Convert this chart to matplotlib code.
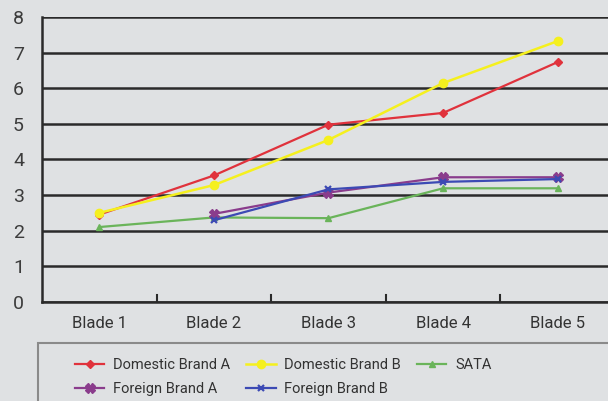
import matplotlib.pyplot as plt
import numpy as np
from matplotlib.patches import Rectangle

# Data: scores per blade
blades = ['Blade 1', 'Blade 2', 'Blade 3', 'Blade 4', 'Blade 5']
domestic_a = [2.45, 3.55, 4.98, 5.31, 6.74]
domestic_b = [2.5, 3.28, 4.55, 6.15, 7.33]
sata = [2.1, 2.37, 2.35, 3.19, 3.19]
foreign_a = [np.nan, 2.47, 3.07, 3.5, 3.5]
foreign_b = [np.nan, 2.29, 3.16, 3.37, 3.45]

bg = '#dfe1e3'
plt.rcParams['font.family'] = ['Roboto', 'DejaVu Sans']

fig = plt.figure(figsize=(6.08, 4.01), dpi=100, facecolor=bg)
ax = fig.add_axes([42 / 608, 0.2476, 1 - 42 / 608, 0.9569 - 0.2476])
ax.set_facecolor(bg)

x = np.arange(len(blades))
ax.plot(x, domestic_a, color='#e0323c', marker='D', markersize=4, lw=1.6, label='Domestic Brand A')
ax.plot(x, domestic_b, color='#f5f01e', marker='o', markersize=6, lw=1.8, label='Domestic Brand B')
ax.plot(x, sata, color='#6ab45a', marker='^', markersize=5, lw=1.6, label='SATA')
ax.plot(x, foreign_a, color='#8a3c8c', marker='X', markersize=7, lw=1.6, label='Foreign Brand A')
ax.plot(x, foreign_b, color='#3c4ab4', marker='x', markersize=5, mew=1.6, lw=1.6, label='Foreign Brand B')

ax.set_ylim(0, 8)
ax.set_xlim(-0.5, 4.5 - 7 / 115)
ax.set_yticks(range(9))
ax.yaxis.grid(True, color='#2a2a2a', lw=1.8)
ax.set_axisbelow(True)
ax.tick_params(axis='y', length=0, labelsize=14, labelcolor='#3c3c3c', pad=13)
ax.set_xticks(x)
ax.set_xticklabels(blades)
ax.tick_params(axis='x', length=0, labelsize=12, labelcolor='#333333', pad=10)
for b in np.arange(0.5, 4, 1):
    ax.plot([b, b], [0, 0.2], color='#2a2a2a', lw=1.5, clip_on=False)

for s in ['top', 'right']:
    ax.spines[s].set_visible(False)
ax.spines['left'].set_color('#2a2a2a')
ax.spines['bottom'].set_color('#2a2a2a')
ax.spines['left'].set_linewidth(1.8)
ax.spines['bottom'].set_linewidth(1.8)

# Legend box
fig.patches.append(Rectangle((37.6 / 608, -0.05), 1.0, 0.05 + 1 - 342.7 / 401,
                             transform=fig.transFigure, facecolor=bg,
                             edgecolor='#8a8a8a', lw=1.5))
handles, labels = ax.get_legend_handles_labels()
order = [0, 3, 1, 4, 2]
fig.legend([handles[i] for i in order], [labels[i] for i in order],
           ncol=3, frameon=False, loc='upper left',
           bbox_to_anchor=(68 / 608, 1 - 351 / 401), fontsize=10.5,
           labelcolor='#333333', handlelength=2.0, handletextpad=0.6,
           columnspacing=1.1, labelspacing=0.7, borderpad=0)

fig.savefig('out.png', dpi=100, facecolor=bg)
